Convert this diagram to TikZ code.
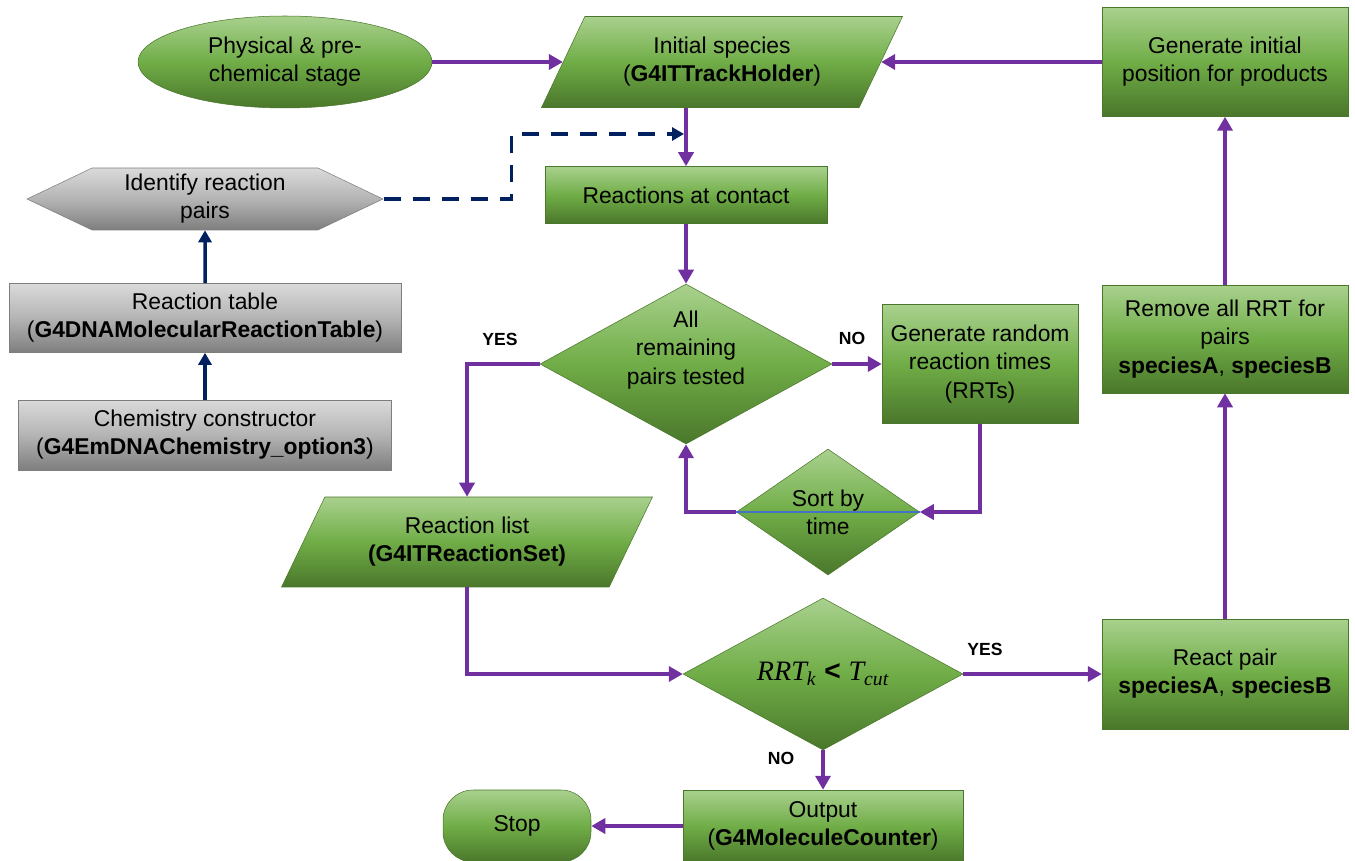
\documentclass[tikz,border=0pt]{standalone}
\usepackage{fontspec}
\setmainfont{Liberation Sans}
\newfontfamily\formulafont{Liberation Serif}
\usetikzlibrary{arrows.meta, calc, shapes.geometric, shapes.symbols}
\usepackage{xcolor}

\definecolor{grntop}{HTML}{A9D18E}
\definecolor{grnmid}{HTML}{70AD47}
\definecolor{grnbot}{HTML}{4A772B}
\definecolor{grytop}{HTML}{DADADA}
\definecolor{grymid}{HTML}{B4B4B4}
\definecolor{grybot}{HTML}{7E7E7E}
\definecolor{flowpurple}{HTML}{7030A0}
\definecolor{flownavy}{HTML}{002060}
\definecolor{sortblue}{HTML}{4472C4}

\begin{document}
\begin{tikzpicture}[x=0.02cm, y=-0.02cm,
  font=\fontsize{13}{16}\selectfont,
  shade green/.style={top color=grntop, bottom color=grnbot, middle color=grnmid,
    draw=grnbot, line width=0.3pt},
  shade grey/.style={top color=grytop, bottom color=grybot, middle color=grymid,
    draw=grybot, line width=0.3pt},
  gbox/.style={shade green, rectangle, align=center, inner sep=2pt},
  gpara/.style={shade green, trapezium, trapezium left angle=52.5,
    trapezium right angle=127.5, trapezium stretches body, align=center, inner sep=2pt},
  gdia/.style={shade green, diamond, align=center, inner sep=0pt},
  gell/.style={shade green, ellipse, align=center, inner sep=2pt},
  gstop/.style={shade green, rectangle, rounded corners=0.6cm, align=center},
  greybox/.style={shade grey, rectangle, align=center, inner sep=2pt},
  hexa/.style={shade grey, signal, signal to=west and east, signal pointer angle=51,
    align=center, inner sep=2pt},
  arr/.style={-{Triangle[length=2.8mm, width=3mm]}, line width=2.2pt, flowpurple},
  narr/.style={-{Triangle[length=2.4mm, width=2.6mm]}, line width=2pt, flownavy},
  lbl/.style={font=\fontsize{10}{12}\selectfont\bfseries}]
\useasboundingbox (0,0) rectangle (1355,861);

% top row
\node[gell, minimum width=5.88cm, minimum height=1.84cm] (phys) at (285,62)
  {Physical \& pre-\\chemical stage};
\node[gpara, minimum width=7.22cm, minimum height=1.82cm] (ini) at (722,62)
  {Initial species\\(\textbf{G4ITTrackHolder})};
\node[gbox, minimum width=4.92cm, minimum height=2.18cm] (gen) at (1225,62)
  {Generate initial\\position for products};

% grey chain on the left
\node[hexa, minimum width=7.12cm, minimum height=1.24cm] (idp) at (205,199)
  {Identify reaction\\pairs};
\node[greybox, minimum width=7.84cm, minimum height=1.38cm] (rtab) at (205,318)
  {Reaction table\\(\textbf{G4DNAMolecularReactionTable})};
\node[greybox, minimum width=7.46cm, minimum height=1.40cm] (chem) at (205,435)
  {Chemistry constructor\\(\textbf{G4EmDNAChemistry\_option3})};

% middle column
\node[gbox, minimum width=5.64cm, minimum height=1.14cm] (contact) at (686,195)
  {Reactions at contact};
\node[gdia, minimum width=5.84cm, minimum height=3.2cm,
  label={[align=center, yshift=0.28cm]center:All\\remaining\\pairs tested}]
  (alltest) at (686,364) {};
\node[gbox, minimum width=3.92cm, minimum height=2.38cm] (rrt) at (980,364)
  {Generate random\\reaction times\\(RRTs)};
\node[gdia, aspect=1.45, minimum width=3.66cm, minimum height=2.52cm] (sort) at (828,512)
  {Sort by\\time};
\node[gpara, minimum width=7.42cm, minimum height=1.8cm] (rlist) at (467,542)
  {Reaction list\\\textbf{(G4ITReactionSet)}};
\node[gdia, aspect=1.84, minimum width=5.6cm, minimum height=3.04cm] (cut) at (823,674)
  {\fontsize{16}{18}\selectfont{\formulafont\itshape RRT\textsubscript{k}}
   \textbf{<} {\formulafont\itshape T\textsubscript{cut}}};
\node[gbox, minimum width=5.6cm, minimum height=1.44cm] (out) at (823,826)
  {Output\\(\textbf{G4MoleculeCounter})};
\node[gstop, minimum width=2.96cm, minimum height=1.44cm] (stop) at (517,826) {Stop};

% right column
\node[gbox, minimum width=4.92cm, minimum height=2.16cm] (remove) at (1225,339)
  {Remove all RRT for\\pairs\\\textbf{speciesA}, \textbf{speciesB}};
\node[gbox, minimum width=4.92cm, minimum height=2.2cm] (react) at (1225,674)
  {React pair\\\textbf{speciesA}, \textbf{speciesB}};

% connectors
\coordinate (dtip) at (684,134);
\draw[arr] (phys) -- (ini);
\draw[arr] (gen) -- (ini);
\draw[arr] (ini.south -| contact.north) -- (contact.north);
\draw[narr, dash pattern=on 0.34cm off 0.24cm] (idp.east) -- ++(128,0) |- (dtip);
\draw[narr] (chem) -- (rtab);
\draw[narr] (rtab) -- (idp);
\draw[arr] (contact) -- (alltest);
\draw[arr] (alltest) -- (rrt);
\draw[arr] (rrt.south) |- (sort.east);
\draw[arr] (sort.west) -| (alltest.south);
\draw[sortblue, line width=0.7pt] (sort.west) -- (sort.east);
\draw[arr] (alltest.west) -| (rlist.north);
\draw[arr] (rlist.south) |- (cut.west);
\draw[arr] (cut) -- (react);
\draw[arr] (cut) -- (out);
\draw[arr] (out) -- (stop);
\draw[arr] (react) -- (remove);
\draw[arr] (remove) -- (gen);

% branch labels
\node[lbl] (yesA) at (500,339) {YES};
\node[lbl] (noA) at (852,338) {NO};
\node[lbl] (yesB) at (985,649) {YES};
\node[lbl] (noB) at (781,758) {NO};
\end{tikzpicture}
\end{document}
